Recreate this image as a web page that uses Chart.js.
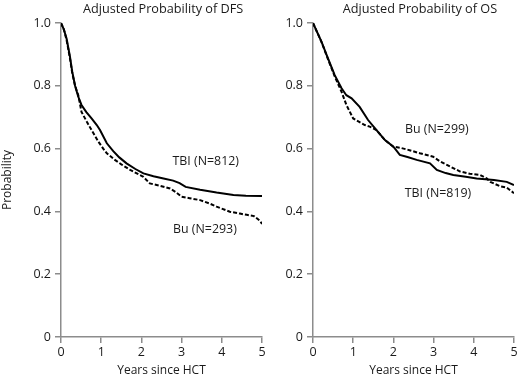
<!DOCTYPE html>
<html>
<head>
<meta charset="utf-8">
<script src="https://cdn.jsdelivr.net/npm/chart.js@4"></script>
<style>
  html, body { margin: 0; padding: 0; background: #fff; }
  #wrap { position: relative; width: 520px; height: 380px; }
  canvas { position: absolute; top: 0; }
  #dfs { left: 0; }
  #os { left: 285px; }
</style>
</head>
<body>
<div id="wrap">
  <canvas id="dfs" width="285" height="380"></canvas>
  <canvas id="os" width="235" height="380"></canvas>
</div>
<script>
// lata od HCT i prawdopodobienstwo
const dfsTbiYears = [0, 0.07, 0.14, 0.22, 0.28, 0.35, 0.43, 0.51, 0.63, 0.76, 0.89, 0.97, 1.14, 1.3, 1.45, 1.63, 1.85, 2.05, 2.3, 2.55, 2.79, 2.95, 3.1, 3.46, 3.87, 4.29, 4.6, 5.0];
const dfsTbiProb  = [1.0, 0.98, 0.95, 0.895, 0.845, 0.80, 0.765, 0.739, 0.716, 0.696, 0.675, 0.659, 0.617, 0.592, 0.572, 0.553, 0.535, 0.521, 0.512, 0.505, 0.498, 0.49, 0.478, 0.469, 0.46, 0.452, 0.45, 0.449];

const dfsBuYears = [0, 0.07, 0.14, 0.22, 0.28, 0.35, 0.43, 0.51, 0.64, 0.76, 0.93, 1.05, 1.14, 1.34, 1.5, 1.72, 2.05, 2.21, 2.45, 2.71, 2.85, 3.0, 3.2, 3.46, 3.7, 3.87, 4.2, 4.45, 4.62, 4.8, 4.95, 5.0];
const dfsBuProb  = [1.0, 0.98, 0.945, 0.89, 0.84, 0.80, 0.77, 0.717, 0.686, 0.659, 0.622, 0.6, 0.585, 0.564, 0.55, 0.532, 0.51, 0.489, 0.482, 0.473, 0.462, 0.447, 0.442, 0.436, 0.425, 0.415, 0.399, 0.393, 0.389, 0.385, 0.37, 0.36];

const osTbiYears = [0, 0.21, 0.37, 0.54, 0.71, 0.83, 0.96, 1.16, 1.37, 1.58, 1.79, 2.0, 2.16, 2.35, 2.58, 2.91, 3.08, 3.3, 3.49, 3.8, 4.07, 4.5, 4.82, 5.0];
const osTbiProb  = [1.0, 0.941, 0.888, 0.834, 0.792, 0.77, 0.76, 0.733, 0.691, 0.659, 0.627, 0.606, 0.58, 0.573, 0.564, 0.553, 0.532, 0.522, 0.516, 0.51, 0.505, 0.5, 0.494, 0.484];

const osBuYears = [0, 0.21, 0.37, 0.54, 0.71, 0.83, 1.0, 1.15, 1.29, 1.41, 1.58, 1.79, 2.0, 2.16, 2.4, 2.66, 2.99, 3.15, 3.33, 3.66, 3.9, 4.16, 4.32, 4.41, 4.66, 4.82, 5.0];
const osBuProb  = [1.0, 0.94, 0.886, 0.83, 0.781, 0.739, 0.696, 0.685, 0.675, 0.67, 0.659, 0.627, 0.606, 0.603, 0.595, 0.585, 0.574, 0.56, 0.548, 0.527, 0.52, 0.516, 0.505, 0.494, 0.48, 0.476, 0.458];

const xTicks = [0, 1, 2, 3, 4, 5];
const yTicks = [0, 0.2, 0.4, 0.6, 0.8, 1.0];

const FONT = '"Open Sans"';
const INK = '#1a1a1a';
const AXIS = '#8c8c8c';

function toPoints(xs, ys) {
    return xs.map((x, i) => ({ x: x, y: ys[i] }));
}

// napisy: tytul panelu i etykiety krzywych (pozycje w jednostkach danych)
const textPlugin = {
    id: 'texts',
    afterDraw(chart, args, opts) {
        const ctx = chart.ctx;
        const xs = chart.scales.x;
        const ys = chart.scales.y;
        ctx.save();
        ctx.fillStyle = INK;
        ctx.textAlign = 'center';
        ctx.textBaseline = 'middle';
        ctx.font = '12.7px ' + FONT;
        ctx.fillText(opts.title, xs.getPixelForValue(opts.titleX), 9);
        ctx.font = '12.4px ' + FONT;
        opts.labels.forEach(l => {
            ctx.fillText(l.text, xs.getPixelForValue(l.x), ys.getPixelForValue(l.y));
        });
        ctx.restore();
    }
};

function makeChart(id, cfg) {
    const ctx = document.getElementById(id).getContext('2d');
    return new Chart(ctx, {
        type: 'line',
        data: {
            datasets: [{
                label: 'TBI',
                data: cfg.tbi,
                borderColor: '#000',
                borderWidth: 2,
                pointRadius: 0,
                tension: 0
            }, {
                label: 'Bu',
                data: cfg.bu,
                borderColor: '#000',
                borderWidth: 2,
                borderDash: [4, 2],
                pointRadius: 0,
                tension: 0
            }]
        },
        options: {
            responsive: false,
            animation: false,
            layout: { padding: { top: 23, right: cfg.padRight, bottom: 0, left: 0 } },
            plugins: {
                legend: { display: false },
                tooltip: { enabled: false },
                texts: { title: cfg.title, titleX: cfg.titleX, labels: cfg.labels }
            },
            scales: {
                x: {
                    type: 'linear',
                    min: 0, max: 5,
                    afterBuildTicks: s => { s.ticks = xTicks.map(v => ({ value: v })); },
                    ticks: { color: INK, font: { family: FONT, size: 12.5 }, padding: 2, maxRotation: 0 },
                    grid: { drawOnChartArea: false, color: AXIS, lineWidth: 1.5, tickLength: 6 },
                    border: { color: AXIS, width: 1.5 },
                    title: {
                        display: true, text: 'Years since HCT', color: INK,
                        font: { family: FONT, size: 12 }, padding: { top: 0, bottom: 2 }
                    },
                    afterFit: s => { s.height = 43; }
                },
                y: {
                    min: 0, max: 1,
                    afterBuildTicks: s => { s.ticks = yTicks.map(v => ({ value: v })); },
                    ticks: {
                        color: INK, font: { family: FONT, size: 12.5 }, padding: 4,
                        callback: v => v === 0 ? '0' : v.toFixed(1)
                    },
                    grid: { drawOnChartArea: false, color: AXIS, lineWidth: 1.5, tickLength: 6 },
                    border: { color: AXIS, width: 1.5 },
                    title: {
                        display: cfg.yTitle, text: 'Probability', color: INK,
                        font: { family: FONT, size: 12 }, padding: 0
                    },
                    afterFit: s => { s.width = cfg.yWidth; }
                }
            }
        },
        plugins: [textPlugin]
    });
}

makeChart('dfs', {
    tbi: toPoints(dfsTbiYears, dfsTbiProb),
    bu: toPoints(dfsBuYears, dfsBuProb),
    title: 'Adjusted Probability of DFS',
    titleX: 2.54,
    labels: [
        { text: 'TBI (N=812)', x: 3.6, y: 0.558 },
        { text: 'Bu (N=293)', x: 3.58, y: 0.341 }
    ],
    yTitle: true,
    yWidth: 61,
    padRight: 23
});

makeChart('os', {
    tbi: toPoints(osTbiYears, osTbiProb),
    bu: toPoints(osBuYears, osBuProb),
    title: 'Adjusted Probability of OS',
    titleX: 2.66,
    labels: [
        { text: 'Bu (N=299)', x: 3.08, y: 0.662 },
        { text: 'TBI (N=819)', x: 3.11, y: 0.458 }
    ],
    yTitle: false,
    yWidth: 28,
    padRight: 6
});
</script>
</body>
</html>
